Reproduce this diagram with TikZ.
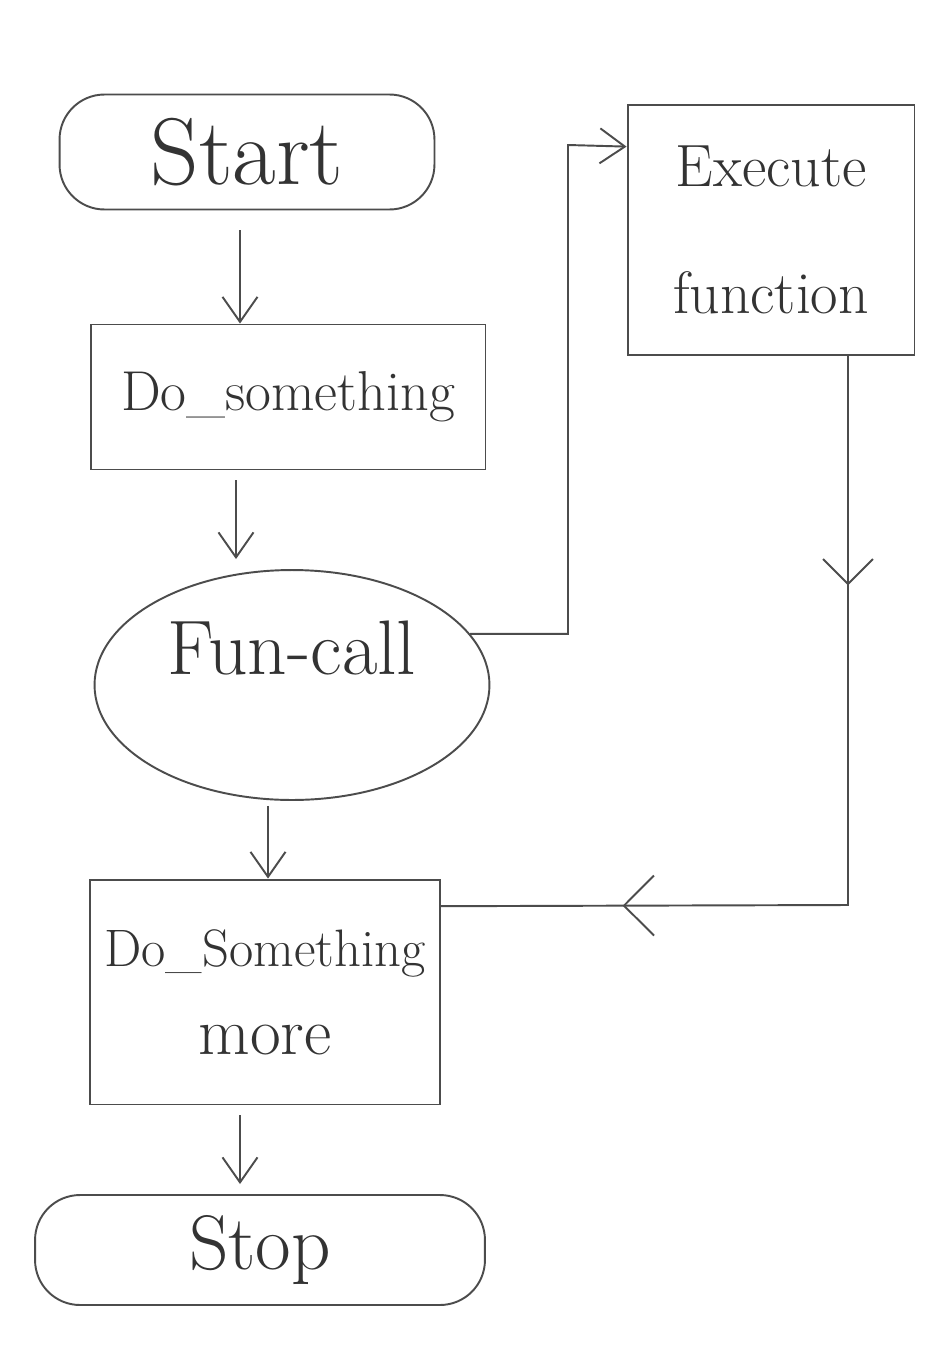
\documentclass[tikz,border=0pt]{standalone}
\usetikzlibrary{shapes.geometric,decorations.markings,arrows.meta}
\begin{document}
\begin{tikzpicture}[x=0.02cm,y=-0.02cm,
  pencil/.style={draw=black!70, line width=1.1pt},
  box/.style={pencil, rectangle, align=center, inner sep=2pt},
  roundbox/.style={pencil, rectangle, rounded corners=0.9cm, inner sep=2pt},
  arr/.style={pencil, -{Straight Barb[length=5mm,width=7mm]}},
  back/.style={pencil, postaction={decorate}, decoration={markings,
     mark=at position 0.24 with {\arrow{Straight Barb[length=5mm,width=10mm]}},
     mark=at position 0.81 with {\arrow{Straight Barb[length=6mm,width=12mm]}}}},
  txt/.style={text=black!80}
]
\useasboundingbox (0,0) rectangle (951,1349);
\fill[white] (0,0) rectangle (951,1349);

\node[roundbox, txt, minimum width=7.5cm, minimum height=2.3cm, font=\fontsize{54}{58}\selectfont] (start) at (247,152) {Start};
\node[box, txt, minimum width=7.9cm, minimum height=2.9cm, font=\fontsize{32}{36}\selectfont] (dosth) at (288,397) {Do\_something};
\node[pencil, ellipse, txt, minimum width=7.9cm, minimum height=4.6cm, inner sep=0pt, font=\fontsize{44}{48}\selectfont] (fun) at (292,685) {\raisebox{1.5cm}{Fun-call}};
\node[box, txt, minimum width=7cm, minimum height=4.5cm, font=\fontsize{30}{50}\selectfont] (domore) at (265,992) {Do\_Something\\{\fontsize{38}{40}\selectfont more}};
\node[roundbox, txt, minimum width=9cm, minimum height=2.2cm, font=\fontsize{44}{48}\selectfont] (stop) at (260,1250) {Stop};
\node[box, txt, minimum width=5.74cm, minimum height=5cm, font=\fontsize{34}{72}\selectfont] (exec) at (771,230) {Execute\\function};

\coordinate (j1) at (568,145);
\coordinate (j2) at (848,905);
\coordinate (c1) at (240,0);
\coordinate (c2) at (236,0);
\coordinate (c3) at (268,0);
\coordinate (c4) at (240,0);

\draw[arr] ([yshift=-0.4cm]start.south -| c1) -- (dosth.north -| c1);
\draw[arr] ([yshift=-0.2cm]dosth.south -| c2) -- ([yshift=0.2cm]fun.north -| c2);
\draw[arr] (fun.16) -| (j1) -- (exec.150);
\draw[back] (exec.south -| j2) -- (j2) -- (domore.26);
\draw[arr] ([yshift=-0.1cm]fun.south -| c3) -- (domore.north -| c3);
\draw[arr] ([yshift=-0.2cm]domore.south -| c4) -- ([yshift=0.2cm]stop.north -| c4);
\end{tikzpicture}
\end{document}
